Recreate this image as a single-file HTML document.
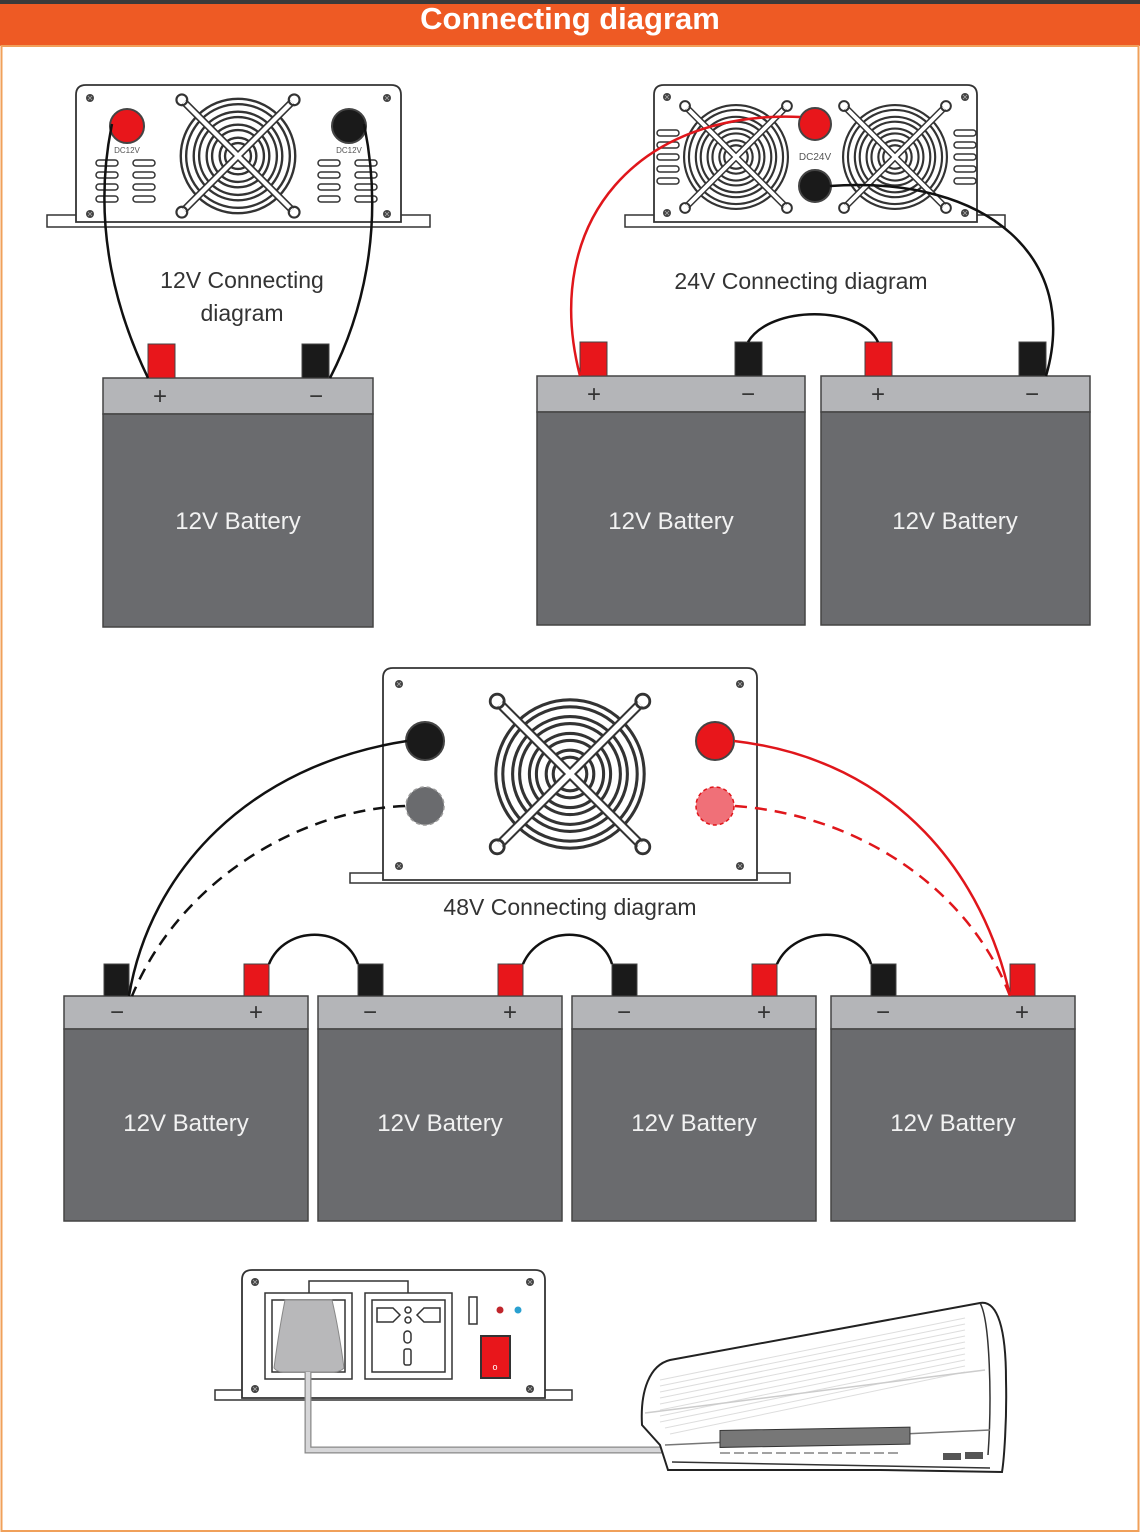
<!DOCTYPE html>
<html><head><meta charset="utf-8"><style>
html,body{margin:0;padding:0;background:#fff;}
svg{display:block;}
text{font-family:"Liberation Sans",sans-serif;}
</style></head><body>
<svg width="1140" height="1535" viewBox="0 0 1140 1535" xmlns="http://www.w3.org/2000/svg">
<defs>
<g id="fan" fill="none" stroke="#333">
  <circle r="53" stroke-width="2.2"/><circle r="48" stroke-width="2.2"/>
  <circle r="41" stroke-width="2.2"/><circle r="36" stroke-width="2.2"/>
  <circle r="29" stroke-width="2.2"/><circle r="24" stroke-width="2.2"/>
  <circle r="17" stroke-width="2.2"/><circle r="12" stroke-width="2.2"/>
  <g stroke-width="7" stroke="#333"><line x1="-50" y1="-50" x2="50" y2="50"/><line x1="50" y1="-50" x2="-50" y2="50"/></g>
  <g stroke-width="4" stroke="#fff"><line x1="-50" y1="-50" x2="50" y2="50"/><line x1="50" y1="-50" x2="-50" y2="50"/></g>
  <circle cx="-52" cy="-52" r="5" stroke-width="2"/><circle cx="52" cy="-52" r="5" stroke-width="2"/>
  <circle cx="-52" cy="52" r="5" stroke-width="2"/><circle cx="52" cy="52" r="5" stroke-width="2"/>
</g>
<g id="screw"><circle r="4" fill="#444"/><path d="M-2,-2L2,2M2,-2L-2,2" stroke="#aaa" stroke-width="0.8"/></g>
<g id="slot"><rect x="0" y="0" width="22" height="6" rx="3" fill="#fff" stroke="#333" stroke-width="1.5"/></g>
</defs>

<!-- header -->
<rect x="0" y="0" width="1140" height="46" fill="#ee5a24"/>
<rect x="0" y="0" width="1140" height="4" fill="#3a3a3a"/>
<text x="570" y="29" text-anchor="middle" fill="#fff" font-size="31" font-weight="bold">Connecting diagram</text>
<rect x="1.5" y="46" width="1137" height="1485" fill="none" stroke="#f0a05a" stroke-width="2"/>

<!-- ===== 12V ===== -->
<rect x="47" y="215" width="383" height="12" fill="#fff" stroke="#333" stroke-width="1.5"/>
<path d="M76,222 V95 Q76,85 86,85 H391 Q401,85 401,95 V222 Z" fill="#fff" stroke="#333" stroke-width="1.8"/>
<use href="#screw" x="90" y="98"/><use href="#screw" x="387" y="98"/><use href="#screw" x="90" y="214"/><use href="#screw" x="387" y="214"/>
<use href="#fan" transform="translate(238,156) scale(1.08)"/>
<circle cx="127" cy="126" r="17" fill="#e8161b" stroke="#444" stroke-width="2"/>
<circle cx="349" cy="126" r="17" fill="#1a1a1a" stroke="#444" stroke-width="2"/>
<text x="127" y="153" text-anchor="middle" font-size="8" fill="#555">DC12V</text>
<text x="349" y="153" text-anchor="middle" font-size="8" fill="#555">DC12V</text>
<g><use href="#slot" x="96" y="160"/><use href="#slot" x="133" y="160"/><use href="#slot" x="96" y="172"/><use href="#slot" x="133" y="172"/><use href="#slot" x="96" y="184"/><use href="#slot" x="133" y="184"/><use href="#slot" x="96" y="196"/><use href="#slot" x="133" y="196"/>
<use href="#slot" x="318" y="160"/><use href="#slot" x="355" y="160"/><use href="#slot" x="318" y="172"/><use href="#slot" x="355" y="172"/><use href="#slot" x="318" y="184"/><use href="#slot" x="355" y="184"/><use href="#slot" x="318" y="196"/><use href="#slot" x="355" y="196"/></g>
<text x="242" y="288" text-anchor="middle" font-size="23" fill="#333">12V Connecting</text>
<text x="242" y="321" text-anchor="middle" font-size="23" fill="#333">diagram</text>
<!-- battery -->
<rect x="103" y="378" width="270" height="36" fill="#b4b5b8" stroke="#444" stroke-width="1.5"/>
<rect x="103" y="414" width="270" height="213" fill="#6a6b6e" stroke="#444" stroke-width="1.5"/>
<text x="238" y="529" text-anchor="middle" font-size="24" fill="#f2f2f2">12V Battery</text>
<rect x="148" y="344" width="27" height="34" fill="#e8161b" stroke="#444"/>
<rect x="302" y="344" width="27" height="34" fill="#1a1a1a" stroke="#444"/>
<text x="160" y="404" text-anchor="middle" font-size="24" fill="#333">+</text>
<text x="316" y="404" text-anchor="middle" font-size="24" fill="#333">−</text>
<path d="M112,124 C90,230 120,320 148,378" fill="none" stroke="#111" stroke-width="2.5"/>
<path d="M364,124 C386,230 360,320 330,378" fill="none" stroke="#111" stroke-width="2.5"/>

<!-- ===== 24V ===== -->
<rect x="625" y="215" width="380" height="12" fill="#fff" stroke="#333" stroke-width="1.5"/>
<path d="M654,222 V95 Q654,85 664,85 H967 Q977,85 977,95 V222 Z" fill="#fff" stroke="#333" stroke-width="1.8"/>
<use href="#screw" x="667" y="97"/><use href="#screw" x="965" y="97"/><use href="#screw" x="667" y="213"/><use href="#screw" x="965" y="213"/>
<use href="#fan" transform="translate(736,157) scale(0.98)"/>
<use href="#fan" transform="translate(895,157) scale(0.98)"/>
<g><use href="#slot" x="657" y="130"/><use href="#slot" x="657" y="142"/><use href="#slot" x="657" y="154"/><use href="#slot" x="657" y="166"/><use href="#slot" x="657" y="178"/>
<use href="#slot" x="954" y="130"/><use href="#slot" x="954" y="142"/><use href="#slot" x="954" y="154"/><use href="#slot" x="954" y="166"/><use href="#slot" x="954" y="178"/></g>
<circle cx="815" cy="124" r="16" fill="#e8161b" stroke="#444" stroke-width="2"/>
<circle cx="815" cy="186" r="16" fill="#1a1a1a" stroke="#444" stroke-width="2"/>
<text x="815" y="160" text-anchor="middle" font-size="10" fill="#555">DC24V</text>
<text x="801" y="289" text-anchor="middle" font-size="23" fill="#333">24V Connecting diagram</text>
<rect x="537" y="376" width="268" height="36" fill="#b4b5b8" stroke="#444" stroke-width="1.5"/>
<rect x="537" y="412" width="268" height="213" fill="#6a6b6e" stroke="#444" stroke-width="1.5"/>
<rect x="821" y="376" width="269" height="36" fill="#b4b5b8" stroke="#444" stroke-width="1.5"/>
<rect x="821" y="412" width="269" height="213" fill="#6a6b6e" stroke="#444" stroke-width="1.5"/>
<text x="671" y="529" text-anchor="middle" font-size="24" fill="#f2f2f2">12V Battery</text>
<text x="955" y="529" text-anchor="middle" font-size="24" fill="#f2f2f2">12V Battery</text>
<rect x="580" y="342" width="27" height="34" fill="#e8161b" stroke="#444"/>
<rect x="735" y="342" width="27" height="34" fill="#1a1a1a" stroke="#444"/>
<rect x="865" y="342" width="27" height="34" fill="#e8161b" stroke="#444"/>
<rect x="1019" y="342" width="27" height="34" fill="#1a1a1a" stroke="#444"/>
<text x="594" y="402" text-anchor="middle" font-size="24" fill="#333">+</text>
<text x="748" y="402" text-anchor="middle" font-size="24" fill="#333">−</text>
<text x="878" y="402" text-anchor="middle" font-size="24" fill="#333">+</text>
<text x="1032" y="402" text-anchor="middle" font-size="24" fill="#333">−</text>
<path d="M800,117 C640,110 540,220 580,376" fill="none" stroke="#e0161b" stroke-width="2.5"/>
<path d="M830,186 C990,175 1080,260 1046,376" fill="none" stroke="#111" stroke-width="2.5"/>
<path d="M748,342 C770,305 860,305 878,342" fill="none" stroke="#111" stroke-width="2.5"/>

<!-- ===== 48V ===== -->
<rect x="350" y="873" width="440" height="10" fill="#fff" stroke="#333" stroke-width="1.5"/>
<path d="M383,880 V678 Q383,668 393,668 H747 Q757,668 757,678 V880 Z" fill="#fff" stroke="#333" stroke-width="1.8"/>
<use href="#screw" x="399" y="684"/><use href="#screw" x="740" y="684"/><use href="#screw" x="399" y="866"/><use href="#screw" x="740" y="866"/>
<use href="#fan" transform="translate(570,774) scale(1.4)"/>
<circle cx="425" cy="741" r="19" fill="#1a1a1a" stroke="#444" stroke-width="2"/>
<circle cx="425" cy="806" r="19" fill="#6a6b6e" stroke="#999" stroke-width="1.5" stroke-dasharray="4 3"/>
<circle cx="715" cy="741" r="19" fill="#e8161b" stroke="#444" stroke-width="2"/>
<circle cx="715" cy="806" r="19" fill="#f07078" stroke="#e0161b" stroke-width="1.5" stroke-dasharray="4 3"/>
<text x="570" y="915" text-anchor="middle" font-size="23" fill="#333">48V Connecting diagram</text>
<g>
<rect x="64" y="996" width="244" height="33" fill="#b4b5b8" stroke="#444" stroke-width="1.5"/><rect x="64" y="1029" width="244" height="192" fill="#6a6b6e" stroke="#444" stroke-width="1.5"/>
<rect x="318" y="996" width="244" height="33" fill="#b4b5b8" stroke="#444" stroke-width="1.5"/><rect x="318" y="1029" width="244" height="192" fill="#6a6b6e" stroke="#444" stroke-width="1.5"/>
<rect x="572" y="996" width="244" height="33" fill="#b4b5b8" stroke="#444" stroke-width="1.5"/><rect x="572" y="1029" width="244" height="192" fill="#6a6b6e" stroke="#444" stroke-width="1.5"/>
<rect x="831" y="996" width="244" height="33" fill="#b4b5b8" stroke="#444" stroke-width="1.5"/><rect x="831" y="1029" width="244" height="192" fill="#6a6b6e" stroke="#444" stroke-width="1.5"/>
</g>
<g font-size="24" fill="#f2f2f2" text-anchor="middle">
<text x="186" y="1131">12V Battery</text><text x="440" y="1131">12V Battery</text><text x="694" y="1131">12V Battery</text><text x="953" y="1131">12V Battery</text>
</g>
<g stroke="#444">
<rect x="104" y="964" width="25" height="32" fill="#1a1a1a"/><rect x="244" y="964" width="25" height="32" fill="#e8161b"/>
<rect x="358" y="964" width="25" height="32" fill="#1a1a1a"/><rect x="498" y="964" width="25" height="32" fill="#e8161b"/>
<rect x="612" y="964" width="25" height="32" fill="#1a1a1a"/><rect x="752" y="964" width="25" height="32" fill="#e8161b"/>
<rect x="871" y="964" width="25" height="32" fill="#1a1a1a"/><rect x="1010" y="964" width="25" height="32" fill="#e8161b"/>
</g>
<g font-size="24" fill="#333" text-anchor="middle">
<text x="117" y="1020">−</text><text x="256" y="1020">+</text><text x="370" y="1020">−</text><text x="510" y="1020">+</text>
<text x="624" y="1020">−</text><text x="764" y="1020">+</text><text x="883" y="1020">−</text><text x="1022" y="1020">+</text>
</g>
<g fill="none" stroke-width="2.5">
<path d="M407,741 C250,765 150,870 129,996" stroke="#111"/>
<path d="M405,806 C300,810 180,880 132,996" stroke="#111" stroke-dasharray="12 8"/>
<path d="M734,741 C900,760 985,880 1010,996" stroke="#e0161b"/>
<path d="M735,806 C860,815 970,890 1010,996" stroke="#e0161b" stroke-dasharray="12 8"/>
<path d="M269,964 C285,925 345,925 358,964" stroke="#111"/>
<path d="M523,964 C540,925 600,925 612,964" stroke="#111"/>
<path d="M777,964 C795,925 860,925 871,964" stroke="#111"/>
</g>

<!-- ===== bottom inverter ===== -->
<rect x="215" y="1390" width="357" height="10" fill="#fff" stroke="#333" stroke-width="1.5"/>
<path d="M242,1398 V1280 Q242,1270 252,1270 H535 Q545,1270 545,1280 V1398 Z" fill="#fff" stroke="#333" stroke-width="1.8"/>
<use href="#screw" x="255" y="1282"/><use href="#screw" x="530" y="1282"/><use href="#screw" x="255" y="1389"/><use href="#screw" x="530" y="1389"/>
<path d="M309,1293 V1281 H408 V1293" fill="none" stroke="#333" stroke-width="1.5"/>
<rect x="265" y="1293" width="87" height="86" fill="#fff" stroke="#333" stroke-width="1.5"/>
<rect x="272" y="1300" width="73" height="72" fill="#fff" stroke="#333" stroke-width="1.5"/>
<path d="M285,1300 H332 Q339,1330 344,1368 Q340,1372 334,1372 H283 Q277,1372 274,1368 Q279,1330 285,1300 Z" fill="#b8b8ba" stroke="#888"/>
<rect x="365" y="1293" width="87" height="86" fill="#fff" stroke="#333" stroke-width="1.5"/>
<rect x="372" y="1300" width="73" height="72" fill="#fff" stroke="#333" stroke-width="1.5"/>
<path d="M377,1308 H393 L400,1315 L393,1322 H377 Z M440,1308 H424 L417,1315 L424,1322 H440 Z" fill="none" stroke="#333" stroke-width="1.5"/>
<circle cx="408" cy="1310" r="3" fill="none" stroke="#333" stroke-width="1.5"/><circle cx="408" cy="1320" r="3" fill="none" stroke="#333" stroke-width="1.5"/>
<rect x="404" y="1331" width="7" height="12" rx="3.5" fill="none" stroke="#333" stroke-width="1.5"/>
<rect x="404" y="1349" width="7" height="16" rx="2" fill="none" stroke="#333" stroke-width="1.5"/>
<rect x="469" y="1297" width="8" height="27" fill="#fff" stroke="#333" stroke-width="1.5"/>
<circle cx="500" cy="1310" r="3.5" fill="#c0262c"/><circle cx="518" cy="1310" r="3.5" fill="#2aa0d0"/>
<rect x="481" y="1336" width="29" height="42" fill="#e8161b" stroke="#333" stroke-width="2"/>
<text x="495" y="1370" font-size="9" fill="#fff" text-anchor="middle">o</text>

<!-- cord -->
<path d="M308,1372 V1450 H720" fill="none" stroke="#888" stroke-width="7"/>
<path d="M308,1372 V1450 H720" fill="none" stroke="#d6d6d8" stroke-width="4.5"/>

<!-- AC unit -->
<path d="M668,1470 L660,1445 L642,1425 C640,1390 650,1365 670,1360 L980,1303 C998,1300 1006,1330 1006,1380 C1007,1420 1004,1460 1002,1472 L880,1470 Z" fill="#fff" stroke="#222" stroke-width="2"/>
<path d="M980,1303 C990,1320 992,1400 988,1455" fill="none" stroke="#333" stroke-width="1.5"/>
<g stroke="#ddd" stroke-width="1">
<path d="M660,1380 L965,1318 M660,1386 L965,1324 M660,1392 L965,1330 M660,1398 L965,1336 M660,1404 L965,1342 M660,1410 L965,1348 M660,1416 L965,1354 M660,1422 L965,1360 M665,1428 L965,1366 M670,1434 L965,1372"/>
</g>
<path d="M645,1413 L985,1370" stroke="#ccc" stroke-width="1.5"/>
<path d="M665,1445 L990,1430" stroke="#777" stroke-width="1.5"/>
<rect x="720" y="1443" width="190" height="17" fill="#777" stroke="#333" transform="skewY(-1)"/>
<path d="M720,1453 H900" stroke="#444" stroke-width="1" stroke-dasharray="10 4"/>
<path d="M672,1462 L990,1468" stroke="#333" stroke-width="1.5"/>
<rect x="943" y="1453" width="18" height="7" fill="#555"/><rect x="965" y="1452" width="18" height="7" fill="#555"/>
</svg>
</body></html>
